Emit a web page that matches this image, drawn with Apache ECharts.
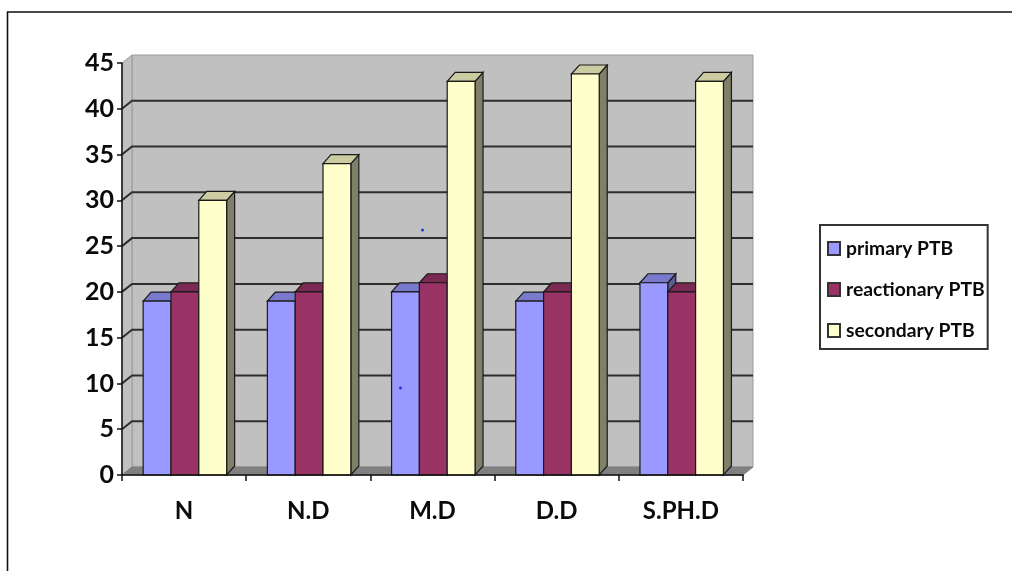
<!DOCTYPE html>
<html><head><meta charset="utf-8">
<style>html,body{margin:0;padding:0;background:#fff}#c{width:1012px;height:571px}</style>
<script src="https://cdn.jsdelivr.net/npm/echarts@6/dist/echarts.min.js"></script>
</head><body><div id="c"></div>
<script>
const categories = ['N', 'N.D', 'M.D', 'D.D', 'S.PH.D'];
const primaryPTB = [19, 19, 20, 19, 21];
const reactionaryPTB = [20, 20, 21, 20, 20];
const secondaryPTB = [30, 34, 43, 43.8, 43];
const yTicks = [5, 10, 15, 20, 25, 30, 35, 40, 45];

const DX = 10, DY = -8, BDX = 8, BDY = -9, FONT = 'Lato, "Open Sans", sans-serif';
const chart = echarts.init(document.getElementById('c'), null, {renderer: 'canvas'});

const wallSeries = {
  type: 'custom', name: 'wall', z: 1, silent: true, clip: false,
  data: [[0, 0]],
  renderItem(params, api) {
    const origin = api.coord([0, 0]), top = api.coord([0, 45]);
    const band = api.size([1, 0])[0];
    const x0 = origin[0] - band / 2, x1 = x0 + band * categories.length;
    const y0 = origin[1], yT = top[1];
    const poly = (points, fill, stroke) => ({
      type: 'polygon', shape: {points},
      style: {fill, stroke: stroke || fill, lineWidth: 1}
    });
    const ch = [
      poly([[x0 + DX, y0 + DY], [x1 + DX, y0 + DY], [x1 + DX, yT + DY], [x0 + DX, yT + DY]], '#c0c0c0', '#9a9a9a'),
      poly([[x0, y0], [x0 + DX, y0 + DY], [x0 + DX, yT + DY], [x0, yT]], '#c0c0c0', '#9a9a9a'),
      poly([[x0, y0], [x1, y0], [x1 + DX, y0 + DY], [x0 + DX, y0 + DY]], '#808080', '#808080')
    ];
    yTicks.forEach(v => {
      const y = api.coord([0, v])[1];
      if (v < 45) {
        ch.push({type: 'polyline', shape: {points: [[x0, y], [x0 + DX, y + DY], [x1 + DX, y + DY]]},
          style: {fill: null, stroke: '#2e2e2e', lineWidth: 2}});
      }
    });
    return {type: 'group', children: ch};
  }
};

function barSeries(name, values, idx, front, topC, side) {
  return {
    type: 'custom', name, z: 4, clip: false,
    itemStyle: {color: front, borderColor: '#333', borderWidth: 1},
    data: values.map((v, i) => [i, v]),
    renderItem(params, api) {
      const p = api.coord([api.value(0), api.value(1)]);
      const base = api.coord([api.value(0), 0]);
      const w = api.size([1, 0])[0] * 0.224;
      const xL = p[0] + 0.8 - 1.5 * w + idx * w, xR = xL + w;
      const yT = p[1], yB = base[1];
      const line = '#1a1a1a';
      const mk = (points, fill) => ({type: 'polygon', shape: {points},
        style: {fill, stroke: line, lineWidth: 1.2}});
      return {type: 'group', children: [
        mk([[xR, yT], [xR + BDX, yT + BDY], [xR + BDX, yB + BDY], [xR, yB]], side),
        mk([[xL, yT], [xL + BDX, yT + BDY], [xR + BDX, yT + BDY], [xR, yT]], topC),
        mk([[xL, yT], [xR, yT], [xR, yB], [xL, yB]], front)
      ]};
    }
  };
}

chart.setOption({
  animation: false,
  backgroundColor: '#fff',
  grid: {left: 122, top: 63, width: 621, height: 412, containLabel: false},
  xAxis: {
    type: 'category', data: categories, z: 5,
    axisLine: {lineStyle: {color: '#111', width: 1.5}},
    axisTick: {show: true, alignWithLabel: false, length: 6, lineStyle: {color: '#111', width: 1.5}},
    axisLabel: {color: '#0a0a0a', fontFamily: FONT, fontWeight: 'bold', fontSize: 24, margin: 24}
  },
  yAxis: {
    type: 'value', min: 0, max: 45, interval: 5, z: 5,
    axisLine: {show: true, lineStyle: {color: '#111', width: 1.5}},
    axisTick: {show: true, length: 5, lineStyle: {color: '#111', width: 1.5}},
    axisLabel: {color: '#0a0a0a', fontFamily: FONT, fontWeight: 'bold', fontSize: 25, margin: 8, padding: [6, 0, 0, 0]},
    splitLine: {show: false}
  },
  legend: {
    orient: 'vertical', left: 820, top: 225,
    data: ['primary PTB', 'reactionary PTB', 'secondary PTB'],
    icon: 'rect', itemWidth: 12, itemHeight: 13, itemGap: 22,
    backgroundColor: '#fff', borderColor: '#333', borderWidth: 2,
    padding: [14, 3, 9, 7],
    textStyle: {color: '#0a0a0a', fontFamily: FONT, fontWeight: 'bold', fontSize: 19.3, padding: [0, 0, 0, 1]}
  },
  graphic: [
    {type: 'polyline', shape: {points: [[7.5, 571], [7.5, 12], [1012, 12]]}, style: {fill: null, stroke: '#111', lineWidth: 1.6}, z: 10},
    {type: 'circle', shape: {cx: 422.5, cy: 230, r: 1.5}, style: {fill: '#2233dd'}, z: 10},
    {type: 'circle', shape: {cx: 400.5, cy: 388, r: 1.5}, style: {fill: '#2233dd'}, z: 10}
  ],
  series: [
    wallSeries,
    barSeries('primary PTB', primaryPTB, 0, '#9999ff', '#7a7acc', '#5c5c99'),
    barSeries('reactionary PTB', reactionaryPTB, 1, '#993366', '#7a2952', '#5c1f3d'),
    barSeries('secondary PTB', secondaryPTB, 2, '#ffffcc', '#cccca3', '#80806a')
  ]
});
</script></body></html>
